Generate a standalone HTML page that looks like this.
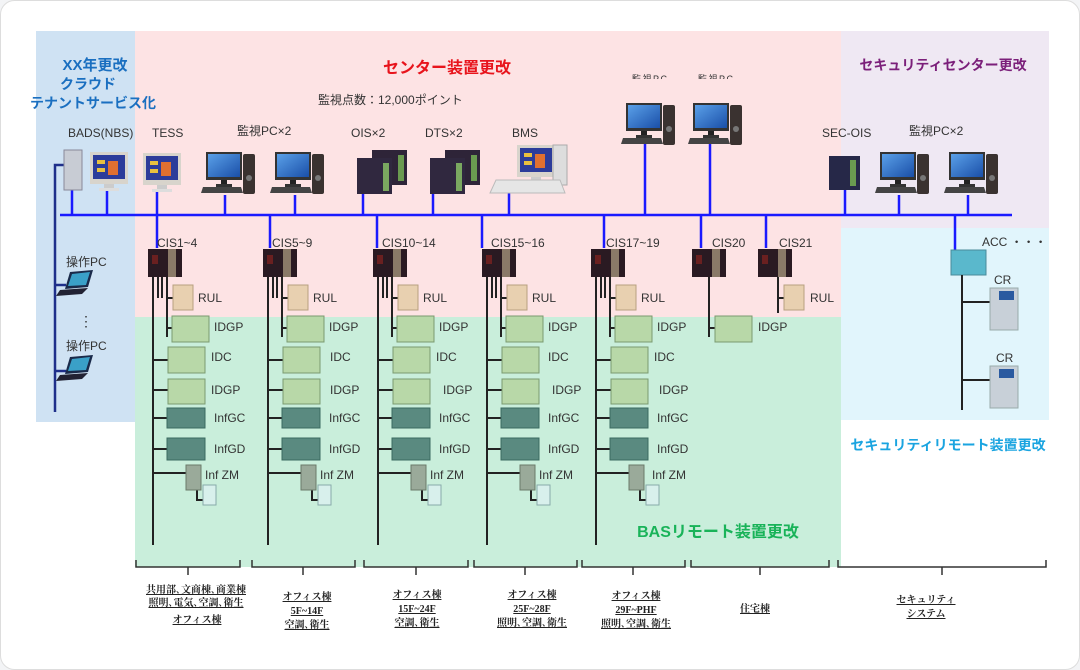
<!DOCTYPE html>
<html><head><meta charset="utf-8"><style>
html,body{margin:0;padding:0;background:#f3f4f6;}
svg{display:block}
text{font-family:"Liberation Sans","Noto Sans CJK JP",sans-serif;}
.lb{font-size:12px;fill:#333}
.bt{font-family:"Liberation Serif","Noto Serif CJK SC",serif;font-size:10px;font-weight:bold;fill:#222;text-decoration:underline}
</style></head><body>
<svg width="1080" height="670" viewBox="0 0 1080 670" xmlns="http://www.w3.org/2000/svg">
<defs>
<linearGradient id="scr" x1="0" y1="0" x2="1" y2="1"><stop offset="0" stop-color="#5aa0e8"/><stop offset="1" stop-color="#1a4fa8"/></linearGradient>
<symbol id="pc" viewBox="0 0 58 46" width="58" height="46" overflow="visible">
<rect x="5" y="0" width="36" height="28" fill="#333"/><rect x="7" y="2" width="32" height="23" fill="url(#scr)"/>
<rect x="20" y="28" width="6" height="5" fill="#222"/><rect x="15" y="32" width="16" height="3" fill="#333"/>
<polygon points="2,35 40,35 42,41 0,41" fill="#444"/>
<rect x="42" y="2" width="12" height="40" rx="2" fill="#3a3230"/><circle cx="48" cy="26" r="3" fill="#777"/>
</symbol>
<symbol id="srv" viewBox="0 0 50 44" width="50" height="44" overflow="visible">
<rect x="15" y="0" width="35" height="35" fill="#2e2438"/><rect x="41" y="5" width="6" height="26" fill="#6a9a50"/>
<rect x="0" y="8" width="35" height="36" fill="#30283f"/><rect x="26" y="13" width="6" height="28" fill="#7aa860"/>
</symbol>
<symbol id="scrpc" viewBox="0 0 38 40" width="38" height="40" overflow="visible">
<rect x="0" y="0" width="38" height="32" fill="#d8d4cc"/><rect x="3" y="3" width="32" height="24" fill="#2c3c9a"/>
<rect x="7" y="8" width="8" height="4" fill="#e8c040"/><rect x="7" y="16" width="8" height="4" fill="#e8c040"/><rect x="18" y="9" width="10" height="14" fill="#e07030"/>
<rect x="14" y="32" width="10" height="4" fill="#ccc"/><rect x="9" y="36" width="20" height="3" fill="#ddd"/>
</symbol>
<symbol id="cis" viewBox="0 0 34 30" width="34" height="30" overflow="visible">
<rect x="0" y="2" width="34" height="28" fill="#2a1a22"/><rect x="20" y="2" width="8" height="28" fill="#8a7a68"/><rect x="4" y="8" width="6" height="9" fill="#6a2020"/>
</symbol>
<symbol id="col" viewBox="0 0 80 300" width="80" height="300" overflow="visible">
<g stroke="#222" stroke-width="2" fill="none">
<line x1="0" y1="29" x2="0" y2="298"/>
<line x1="5" y1="29" x2="5" y2="51"/><line x1="9" y1="29" x2="9" y2="51"/>
<line x1="14" y1="29" x2="14" y2="90"/>
<line x1="14" y1="51" x2="20" y2="51"/><line x1="14" y1="81" x2="20" y2="81"/>
<line x1="0" y1="113" x2="15" y2="113"/><line x1="0" y1="143" x2="15" y2="143"/>
<line x1="0" y1="171" x2="14" y2="171"/><line x1="0" y1="202" x2="14" y2="202"/>
<line x1="0" y1="226" x2="33" y2="226"/>
<polyline points="44,243 44,253 50,253"/>
</g>
<use href="#cis" x="-5" y="0"/>
<rect x="20" y="38" width="20" height="25" fill="#e8d0b0" stroke="#b8a080"/>
<rect x="19" y="69" width="37" height="26" fill="#b8d8a8" stroke="#7a9a70"/>
<rect x="15" y="100" width="37" height="26" fill="#b8d8a8" stroke="#7a9a70"/>
<rect x="15" y="132" width="37" height="25" fill="#b8d8a8" stroke="#7a9a70"/>
<rect x="14" y="161" width="38" height="20" fill="#5a8a80" stroke="#3a6a60"/>
<rect x="14" y="191" width="38" height="22" fill="#5a8a80" stroke="#3a6a60"/>
<rect x="33" y="218" width="15" height="25" fill="#9aaa9a" stroke="#6a7a6a"/>
<rect x="50" y="238" width="13" height="20" fill="#d8f0ec" stroke="#8aa"/>
</symbol>
</defs>
<rect x="0.5" y="0.5" width="1079" height="669" rx="14" fill="#fff" stroke="#ddd"/>
<rect x="36" y="31" width="100" height="391" fill="#cfe2f3"/>
<rect x="135" y="31" width="706" height="286" fill="#fde3e4"/>
<rect x="135" y="317" width="706" height="250" fill="#c9eedb"/>
<rect x="841" y="31" width="208" height="197" fill="#efe8f3"/>
<rect x="841" y="228" width="208" height="192" fill="#e1f5fc"/>

<g font-weight="bold" text-anchor="middle">
<text x="95" y="70" font-size="15" fill="#1a6fc0">XX年更改</text>
<text x="88" y="89" font-size="14" fill="#1a6fc0">クラウド</text>
<text x="93" y="108" font-size="14" fill="#1a6fc0">テナントサービス化</text>
<text x="447" y="73" font-size="16" fill="#e8141c">センター装置更改</text>
<text x="943" y="70" font-size="14" fill="#7b1f7a">セキュリティセンター更改</text>
<text x="718" y="537" font-size="16" fill="#19b359">BASリモート装置更改</text>
<text x="948" y="450" font-size="14" fill="#1aa4e0">セキュリティリモート装置更改</text>
</g>
<text x="318" y="104" font-size="12" fill="#333">監視点数：12,000ポイント</text>

<g>
<text x="68" y="137" class="lb">BADS(NBS)</text><text x="152" y="137" class="lb">TESS</text>
<text x="237" y="135" class="lb">監視PC×2</text><text x="351" y="137" class="lb">OIS×2</text>
<text x="425" y="137" class="lb">DTS×2</text><text x="512" y="137" class="lb">BMS</text>
<text x="822" y="137" class="lb">SEC-OIS</text><text x="909" y="135" class="lb">監視PC×2</text>
<text x="632" y="82" font-size="9" fill="#333" textLength="35">監視PC</text><text x="698" y="82" font-size="9" fill="#333" textLength="35">監視PC</text>
</g>
<rect x="625" y="79" width="120" height="10" fill="#fde3e4"/>

<g stroke="#1a1aff" stroke-width="2.5">
<line x1="60" y1="215" x2="1012" y2="215"/>
<line x1="72" y1="190" x2="72" y2="215"/><line x1="107" y1="190" x2="107" y2="215"/>
<line x1="157" y1="192" x2="157" y2="248"/><line x1="225" y1="195" x2="225" y2="215"/><line x1="295" y1="195" x2="295" y2="215"/>
<line x1="363" y1="192" x2="363" y2="215"/><line x1="433" y1="192" x2="433" y2="215"/><line x1="509" y1="192" x2="509" y2="215"/>
<line x1="645" y1="143" x2="645" y2="215"/><line x1="710" y1="143" x2="710" y2="215"/>
<line x1="845" y1="190" x2="845" y2="215"/><line x1="899" y1="195" x2="899" y2="215"/><line x1="968" y1="195" x2="968" y2="215"/>
<line x1="270" y1="215" x2="270" y2="248"/><line x1="377" y1="215" x2="377" y2="248"/><line x1="482" y1="215" x2="482" y2="248"/>
<line x1="604" y1="215" x2="604" y2="248"/><line x1="701" y1="215" x2="701" y2="248"/><line x1="766" y1="215" x2="766" y2="248"/>
<line x1="955" y1="215" x2="955" y2="250"/>
</g>
<g stroke="#1f2f8a" stroke-width="2.5" fill="none">
<polyline points="64,165 55,165 55,412"/><line x1="55" y1="285" x2="66" y2="285"/><line x1="55" y1="371" x2="66" y2="371"/>
</g>

<rect x="64" y="150" width="18" height="40" fill="#c8ccd4" stroke="#889"/>
<use href="#scrpc" x="90" y="152"/>
<use href="#scrpc" x="143" y="153"/>
<use href="#pc" x="201" y="152"/><use href="#pc" x="270" y="152"/>
<use href="#srv" x="357" y="150"/><use href="#srv" x="430" y="150"/>
<use href="#scrpc" x="517" y="145"/><rect x="553" y="145" width="14" height="40" fill="#ddd" stroke="#aaa"/>
<polygon points="496,180 560,180 565,193 490,193" fill="#e6e6e6" stroke="#bbb"/>
<use href="#pc" x="621" y="103"/><use href="#pc" x="688" y="103"/>
<rect x="829" y="156" width="31" height="34" fill="#262848"/><rect x="850" y="160" width="6" height="26" fill="#6a9a50"/>
<use href="#pc" x="875" y="152"/><use href="#pc" x="944" y="152"/>

<text x="66" y="266" class="lb">操作PC</text>
<polygon points="70,272 93,270 88,287 65,289" fill="#1a2a4a"/><polygon points="72,274 90,272 86,285 68,286" fill="#3aa0c8"/><polygon points="60,290 88,288 82,294 56,296" fill="#223"/>
<text x="86" y="326" font-size="14" fill="#333" text-anchor="middle">⋮</text>
<text x="66" y="350" class="lb">操作PC</text>
<polygon points="70,357 93,355 88,372 65,374" fill="#1a2a4a"/><polygon points="72,359 90,357 86,370 68,371" fill="#3aa0c8"/><polygon points="60,375 88,373 82,379 56,381" fill="#223"/>

<g transform="translate(153,247)">
<use href="#col"/>
<text x="4" y="0" class="lb">CIS1~4</text><text x="45" y="55" class="lb">RUL</text>
<text x="61" y="84" class="lb">IDGP</text><text x="58" y="114" class="lb">IDC</text><text x="58" y="147" class="lb">IDGP</text>
<text x="61" y="175" class="lb">InfGC</text><text x="61" y="206" class="lb">InfGD</text><text x="52" y="232" class="lb">Inf ZM</text>
</g>
<g transform="translate(268,247)">
<use href="#col"/>
<text x="4" y="0" class="lb">CIS5~9</text><text x="45" y="55" class="lb">RUL</text>
<text x="61" y="84" class="lb">IDGP</text><text x="62" y="114" class="lb">IDC</text><text x="62" y="147" class="lb">IDGP</text>
<text x="61" y="175" class="lb">InfGC</text><text x="61" y="206" class="lb">InfGD</text><text x="52" y="232" class="lb">Inf ZM</text>
</g>
<g transform="translate(378,247)">
<use href="#col"/>
<text x="4" y="0" class="lb">CIS10~14</text><text x="45" y="55" class="lb">RUL</text>
<text x="61" y="84" class="lb">IDGP</text><text x="58" y="114" class="lb">IDC</text><text x="65" y="147" class="lb">IDGP</text>
<text x="61" y="175" class="lb">InfGC</text><text x="61" y="206" class="lb">InfGD</text><text x="52" y="232" class="lb">Inf ZM</text>
</g>
<g transform="translate(487,247)">
<use href="#col"/>
<text x="4" y="0" class="lb">CIS15~16</text><text x="45" y="55" class="lb">RUL</text>
<text x="61" y="84" class="lb">IDGP</text><text x="61" y="114" class="lb">IDC</text><text x="65" y="147" class="lb">IDGP</text>
<text x="61" y="175" class="lb">InfGC</text><text x="61" y="206" class="lb">InfGD</text><text x="52" y="232" class="lb">Inf ZM</text>
</g>
<g transform="translate(596,247)">
<use href="#col"/>
<text x="10" y="0" class="lb">CIS17~19</text><text x="45" y="55" class="lb">RUL</text>
<text x="61" y="84" class="lb">IDGP</text><text x="58" y="114" class="lb">IDC</text><text x="63" y="147" class="lb">IDGP</text>
<text x="61" y="175" class="lb">InfGC</text><text x="61" y="206" class="lb">InfGD</text><text x="56" y="232" class="lb">Inf ZM</text>
</g>
<g stroke="#222" stroke-width="2"><line x1="709" y1="276" x2="709" y2="337"/><line x1="709" y1="328" x2="715" y2="328"/>
<line x1="778" y1="276" x2="778" y2="313"/><line x1="778" y1="298" x2="784" y2="298"/></g>
<use href="#cis" x="692" y="247"/><use href="#cis" x="758" y="247"/>
<rect x="715" y="316" width="37" height="26" fill="#b8d8a8" stroke="#7a9a70"/>
<rect x="784" y="285" width="20" height="25" fill="#e8d0b0" stroke="#b8a080"/>
<text x="712" y="247" class="lb">CIS20</text><text x="779" y="247" class="lb">CIS21</text>
<text x="758" y="331" class="lb">IDGP</text><text x="810" y="302" class="lb">RUL</text>

<rect x="951" y="250" width="35" height="25" fill="#5ab8cc" stroke="#4a8a9a"/>
<text x="982" y="246" class="lb">ACC ・・・</text>
<g stroke="#222" stroke-width="2"><line x1="962" y1="275" x2="962" y2="410"/><line x1="962" y1="302" x2="990" y2="302"/><line x1="962" y1="380" x2="990" y2="380"/></g>
<rect x="990" y="288" width="28" height="42" fill="#c8d0d8" stroke="#9aa"/><rect x="999" y="291" width="15" height="9" fill="#2a5aa0"/>
<rect x="990" y="366" width="28" height="42" fill="#c8d0d8" stroke="#9aa"/><rect x="999" y="369" width="15" height="9" fill="#2a5aa0"/>
<text x="994" y="284" class="lb">CR</text><text x="996" y="362" class="lb">CR</text>

<g stroke="#333" stroke-width="1.5" fill="none">
<path d="M136,560 V567 H240 V560 M188,567 V575"/>
<path d="M252,560 V567 H355 V560 M303,567 V575"/>
<path d="M364,560 V567 H468 V560 M416,567 V575"/>
<path d="M474,560 V567 H577 V560 M525,567 V575"/>
<path d="M582,560 V567 H685 V560 M633,567 V575"/>
<path d="M691,560 V567 H829 V560 M760,567 V575"/>
<path d="M838,560 V567 H1046 V560 M942,567 V575"/>
</g>
<g text-anchor="middle">
<text x="196" y="593" class="bt">共用部､文商棟､商業棟</text>
<text x="196" y="606" class="bt">照明､電気､空調､衛生</text>
<text x="197" y="623" class="bt">オフィス棟</text>
<text x="307" y="600" class="bt">オフィス棟</text><text x="307" y="614" class="bt">5F~14F</text><text x="307" y="628" class="bt">空調､衛生</text>
<text x="417" y="598" class="bt">オフィス棟</text><text x="417" y="612" class="bt">15F~24F</text><text x="417" y="626" class="bt">空調､衛生</text>
<text x="532" y="598" class="bt">オフィス棟</text><text x="532" y="612" class="bt">25F~28F</text><text x="532" y="626" class="bt">照明､空調､衛生</text>
<text x="636" y="599" class="bt">オフィス棟</text><text x="636" y="613" class="bt">29F~PHF</text><text x="636" y="627" class="bt">照明､空調､衛生</text>
<text x="755" y="612" class="bt">住宅棟</text>
<text x="926" y="603" class="bt">セキュリティ</text><text x="926" y="617" class="bt">システム</text>
</g>
</svg>
</body></html>
